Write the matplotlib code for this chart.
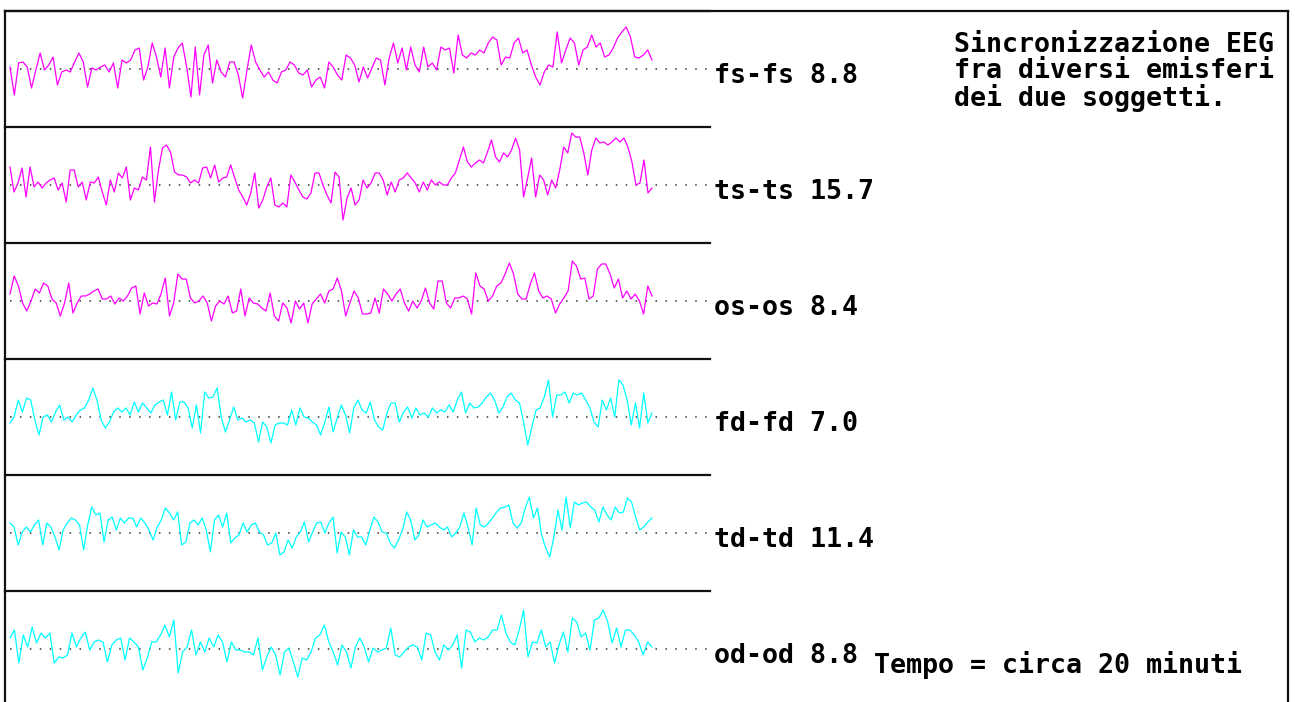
"""
Sincronizzazione EEG fra diversi emisferi dei due soggetti: six stacked traces.
"""
import numpy as np
import matplotlib
matplotlib.use("Agg")
import matplotlib.pyplot as plt
from matplotlib.lines import Line2D

# Traces, amplitude relative to the dotted baseline (arbitrary units), ~20 minutes each.
FS_FS = [2, -26, 6, 7, 2, -19, -1, 16, -1, 4, 12, -16, -3, -1, -3, 7, 16, 7, -18, 1, -1, 2, 4, -3, 6, -19,
         9, 6, 9, 19, 21, -11, 2, 26, 12, -8, 21, -19, 12, 21, 26, 2, -28, 22, -26, 14, 24, -14, 9, -3, -8,
         7, 7, -6, -29, -1, 24, 7, -1, -8, -3, -11, -14, -3, -1, 7, 4, -4, -6, -1, -18, -11, -8, -19, 7, 2,
         -6, -11, 14, 11, 4, -13, 2, -9, 1, 11, 9, -16, 11, 26, 6, 21, -1, 22, 4, -3, 22, 2, 6, -1, 22, 19,
         21, -4, 34, 14, 11, 16, 14, 19, 16, 26, 32, 29, 4, 12, 11, 26, 31, 16, 19, 4, -8, -16, -3, 4, 2, 37,
         6, 19, 31, 26, 4, 19, 22, 34, 22, 26, 12, 14, 21, 31, 37, 42, 32, 12, 11, 14, 19, 9]
TS_TS = [18, -7, 2, 17, -12, 18, -2, 3, -3, 2, 5, 7, -5, 2, -17, 15, 15, -2, 3, -15, 3, 2, 8, -7, -20, 5,
         -7, 12, 7, 18, -15, -3, -5, 8, 5, 38, -17, 15, 37, 40, 33, 13, 10, 10, 8, 2, 5, 2, 17, 18, 7, 20,
         3, 7, 8, 20, 7, -5, -12, -20, -8, 12, -23, -15, -2, 7, -20, -22, -18, -22, 10, 3, -5, -12, -14, -8,
         12, 12, 0, -10, -18, 13, 8, -35, -13, -3, -20, -15, 5, -3, 2, 12, 12, 5, -10, 3, -7, 5, 7, 12, 7, 2,
         -7, 3, -5, 5, 0, 3, 0, 0, 7, 12, 25, 38, 23, 18, 22, 25, 22, 33, 45, 28, 23, 32, 28, 35, 47, 35, -12,
         7, 27, -12, 10, 5, -10, 5, -3, 15, 38, 32, 52, 48, 48, 32, 10, 35, 47, 42, 43, 40, 43, 47, 43, 47, 38,
         23, 0, 2, 25, -8, -3]
OS_OS = [7, 25, 15, -2, -10, 0, 12, 8, 18, 15, 2, -2, -15, -2, 18, -12, -2, 5, 5, 7, 10, 12, 2, 2, 5, -3, 3,
         0, 5, 13, 15, -13, 8, -5, -2, -3, 7, 23, -15, -2, 27, 22, 22, 3, -2, 0, 5, -2, -20, -5, 0, -3, 5,
         -12, -10, 12, -15, 3, -2, -3, -7, -10, 8, -15, -20, -2, -7, -22, 0, -8, -2, -22, -3, 2, 7, -2, 10, 12,
         23, 10, -15, -2, 10, 3, -13, -13, -12, 3, -12, 12, 7, 0, 7, 12, -2, -10, 0, -7, 0, 13, -2, -8, 20, 20,
         -2, -7, 3, 3, 5, 2, -13, 28, 15, 12, 0, 5, 15, 18, 27, 38, 27, 7, 2, 2, 17, 28, 10, 3, 5, 2, -12, -3,
         3, 10, 40, 35, 22, 23, 2, 5, 32, 37, 37, 27, 13, 22, 3, 10, 2, 7, 0, -13, 15, 5]
FD_FD = [-6, 0, 17, 5, 19, 17, -3, -18, 0, 2, -5, 5, 12, -3, 0, -5, 2, 7, 9, 17, 29, 17, -3, -11, -5, 5, 9,
         5, 9, 2, 15, 5, 14, 9, 4, 12, 15, 17, 2, 25, -3, 15, 15, 9, -11, 12, -16, 25, 19, 20, 29, 0, -15, -3,
         10, -3, -1, -5, -3, -6, -25, -5, -10, -26, -8, -6, -6, -8, 7, -8, 9, 0, -1, -5, -8, -18, -5, 10, -15,
         -1, 12, 2, -16, 9, 17, 7, 4, 15, -3, -10, -13, 4, 14, 14, -5, 5, 10, -1, 9, 2, 4, 0, 9, 4, 7, 5, 12, 5,
         17, 25, 4, 14, 9, 10, 14, 20, 24, 17, 4, 10, 20, 24, 17, 14, -5, -28, -10, 7, 9, 20, 37, 0, 22, 22, 25,
         14, 24, 22, 24, 17, 9, -5, -10, 17, 7, 19, 0, 37, 32, 17, -8, 14, -11, 24, -6, 4]
TD_TD = [10, 6, -12, 1, 6, 1, 8, 13, -12, 10, 6, -4, -17, 3, 10, 15, 13, 8, -17, 8, 26, 18, 20, -9, 13, 16, 3,
         15, 10, 15, 15, 6, 15, 10, 3, -7, 6, 13, 25, 20, 13, 21, -12, -9, 10, 13, 8, 15, 3, -19, 13, 18, 6, 20,
         -10, -5, -2, 10, 1, 8, 10, 1, -2, -12, -10, 0, -22, -19, -7, -15, -4, 1, 11, -9, 1, 10, 11, 0, 10, 16,
         -20, 1, -4, -22, 3, -4, -4, -12, 3, 16, 11, 1, 0, -10, -15, -7, 3, 21, 13, -7, -2, 13, 6, 8, 10, 6, 3,
         6, -4, 0, 6, 20, 6, -12, 25, 8, 6, 10, 15, 21, 25, 26, 28, 10, 5, 10, 25, 36, 15, 25, -2, -15, -24, -4,
         23, 3, 36, 5, 31, 28, 30, 31, 26, 23, 11, 26, 18, 13, 26, 20, 21, 35, 31, 16, 3, 6, 11, 15]
OD_OD = [11, 19, -14, 14, 2, 22, 6, 16, 11, 16, -14, -8, -9, -6, 16, 2, 11, 17, -1, 7, 9, 7, -13, 4, 9, 11,
         -11, 11, 7, 2, -21, -9, 7, 7, 14, 24, 12, 29, -24, -3, 2, 19, -6, 7, -3, 11, 2, 14, 7, -13, 7, -1, -1,
         -3, -3, -6, 11, -21, -8, 2, -6, -26, -3, 1, -13, -28, -9, -11, -3, 11, 14, 24, 7, -3, -16, 4, -3, -19,
         2, 11, 2, -13, 1, -3, -1, 1, 21, -6, -8, -3, 2, 4, 2, -11, 16, 14, -3, -11, 4, -1, 4, 14, -19, 19, 17,
         7, 11, 9, 12, 19, 19, 34, 16, 7, 4, 19, 39, -8, 7, 6, 19, 2, 7, -14, 4, 17, -3, 31, 27, 12, 16, -1, 29,
         31, 39, 27, 6, 21, 2, 19, 19, 14, 7, -6, 7, 2]

SERIES = [FS_FS, TS_TS, OS_OS, FD_FD, TD_TD, OD_OD]
LABELS = ["fs-fs 8.8", "ts-ts 15.7", "os-os 8.4", "fd-fd 7.0", "td-td 11.4", "od-od 8.8"]
COLORS = ["#ff00ff"] * 3 + ["#00ffff"] * 3
TITLE_LINES = ["Sincronizzazione EEG", "fra diversi emisferi", "dei due soggetti."]
FOOTNOTE = "Tempo = circa 20 minuti"
DURATION = 20.0  # minutes

W, H = 1295, 702
FONT = dict(family="DejaVu Sans Mono", weight="bold", size=19.2)

fig = plt.figure(figsize=(W / 100, H / 100), dpi=100)
fig.patch.set_facecolor("white")


def fx(px):
    return px / W


def fy(py):
    return 1 - py / H


# pixel layout of the strip
top0, strip_h = 11, 116
left_px, right_px, trace_px = 5, 710, 10
px_per_min = 642 / DURATION
xlim = ((left_px - trace_px) / px_per_min, (right_px - trace_px) / px_per_min)

for i, (vals, label, color) in enumerate(zip(SERIES, LABELS, COLORS)):
    top = top0 + i * strip_h
    ax = fig.add_axes([fx(left_px), fy(top + strip_h), fx(right_px - left_px), strip_h / H])
    ax.set_xlim(*xlim)
    ax.set_ylim(-58, 58)
    t = np.linspace(0, DURATION, len(vals))
    ax.plot([0, (708 - trace_px) / px_per_min], [0, 0], color="#333333", lw=1.1,
            linestyle=(0, (1, 5.5)))
    ax.plot(t, vals, color=color, lw=0.9)
    for side in ["left", "right", "bottom"]:
        ax.spines[side].set_visible(False)
    ax.spines["top"].set_linewidth(1.6)
    ax.spines["top"].set_color("#111111")
    ax.set_xticks([])
    ax.set_yticks([])
    ax.patch.set_alpha(0)
    fig.text(fx(714), fy(top + 58 + 7), label, va="center", ha="left", **FONT)

# outer frame: top, left and right edges
fig.add_artist(Line2D([fx(5), fx(1288)], [fy(11), fy(11)], color="#111111", lw=1.6))
fig.add_artist(Line2D([fx(5), fx(5)], [fy(11), 0], color="#111111", lw=1.6))
fig.add_artist(Line2D([fx(1288), fx(1288)], [fy(11), 0], color="#111111", lw=1.6))

for k, line in enumerate(TITLE_LINES):
    fig.text(fx(954), fy(45 + 26.5 * k), line, va="center", ha="left", **FONT)
fig.text(fx(874), fy(665), FOOTNOTE, va="center", ha="left", **FONT)

fig.savefig("out.png", dpi=100)
